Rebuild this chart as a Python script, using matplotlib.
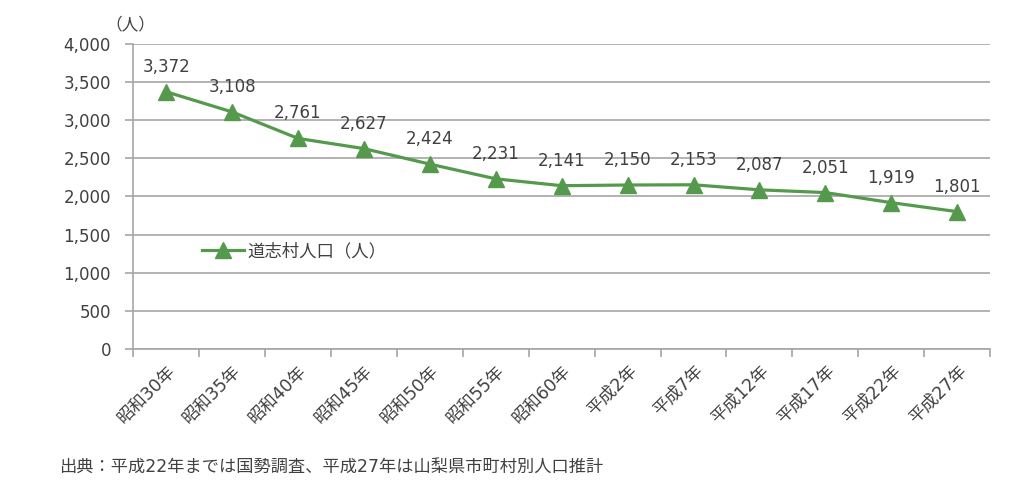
import matplotlib.pyplot as plt
from matplotlib.ticker import FuncFormatter, FixedLocator

plt.rcParams['font.family'] = ['DejaVu Sans', 'Noto Sans CJK JP']

# data
years = ['昭和30年', '昭和35年', '昭和40年', '昭和45年', '昭和50年', '昭和55年', '昭和60年',
         '平成2年', '平成7年', '平成12年', '平成17年', '平成22年', '平成27年']
population = [3372, 3108, 2761, 2627, 2424, 2231, 2141, 2150, 2153, 2087, 2051, 1919, 1801]
series_name = '道志村人口（人）'
source_note = '出典：平成22年までは国勢調査、平成27年は山梨県市町村別人口推計'

green = '#559a4c'
text_col = '#404040'
grid_col = '#a6a6a6'

fig = plt.figure(figsize=(10.24, 4.98), dpi=100)
ax = fig.add_axes([0.130, 0.299, 0.837, 0.613])

x = list(range(len(years)))
ax.plot(x, population, color=green, lw=2.3, marker='^', markersize=12,
        label=series_name, zorder=3)

for xi, v in zip(x, population):
    ax.annotate(f'{v:,}', (xi, v), xytext=(0, 11.5), textcoords='offset points',
                ha='center', va='bottom', fontsize=12, color=text_col)

ax.set_xlim(-0.5, len(years) - 0.5)
ax.set_ylim(0, 4000)
ax.set_yticks(range(0, 4001, 500))
ax.yaxis.set_major_formatter(FuncFormatter(lambda v, p: f'{int(v):,}'))
ax.grid(axis='y', color=grid_col, lw=1.2)
ax.set_axisbelow(True)

# category boundaries get tick marks, labels sit at the centres
ax.xaxis.set_major_locator(FixedLocator([i - 0.5 for i in range(len(years) + 1)]))
ax.xaxis.set_major_formatter(FuncFormatter(lambda v, p: ''))
ax.set_xticks(x, minor=True)
ax.set_xticklabels(years, minor=True, rotation=45, ha='right',
                   rotation_mode='anchor', fontsize=12.5, color=text_col)
ax.tick_params(axis='x', which='major', length=6, color=grid_col, width=1.2)
ax.tick_params(axis='x', which='minor', length=0, pad=9)
ax.tick_params(axis='y', length=6, color=grid_col, width=1.2, labelsize=12,
               labelcolor=text_col, pad=10)

for s in ['top', 'right']:
    ax.spines[s].set_visible(False)
for s in ['left', 'bottom']:
    ax.spines[s].set_color(grid_col)
    ax.spines[s].set_linewidth(1.2)

ax.text(-0.032, 1.035, '（人）', transform=ax.transAxes, fontsize=12,
        color=text_col, ha='left', va='bottom')

ax.legend(loc='center left', bbox_to_anchor=(0.062, 0.32), frameon=False,
          fontsize=12.5, handlelength=2.4, handletextpad=0.25, labelcolor=text_col)

fig.text(0.058, 0.05, source_note, fontsize=12.4, color=text_col, ha='left')

fig.savefig('out.png', dpi=100)
